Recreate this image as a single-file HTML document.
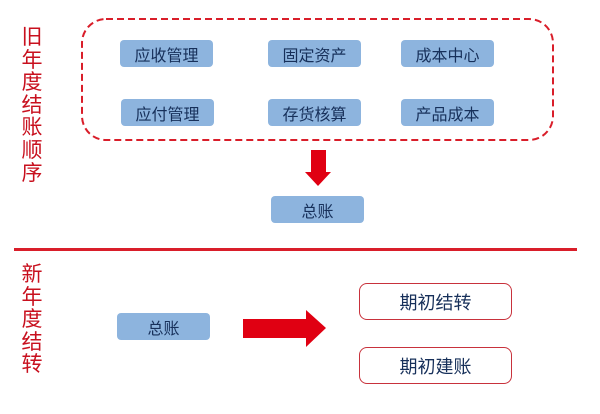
<!DOCTYPE html>
<html><head><meta charset="utf-8"><style>
body{margin:0;width:600px;height:414px;background:#fff;position:relative;overflow:hidden;font-family:"Liberation Sans","Noto Sans CJK SC",sans-serif}
.b{position:absolute;background:#8db4de;border-radius:4px;color:#17305a;font-size:16px;display:flex;align-items:center;justify-content:center;width:93px;height:27px}
.w{position:absolute;border:1.5px solid #c8323c;border-radius:8px;color:#17305a;font-size:18px;display:flex;align-items:center;justify-content:center;width:153px;height:37px;box-sizing:border-box;background:#fff}
.v{position:absolute;color:#c8101e;font-size:21px;line-height:22.6px;width:22px;text-align:center}
</style></head><body>
<div class="v" style="left:21px;top:27px">旧<br>年<br>度<br>结<br>账<br>顺<br>序</div>
<div class="v" style="left:21px;top:264px">新<br>年<br>度<br>结<br>转</div>
<svg width="600" height="414" style="position:absolute;left:0;top:0">
<rect x="82" y="19" width="471" height="121" rx="24" fill="none" stroke="#d91e2a" stroke-width="2" stroke-dasharray="7,4"/>
<polygon points="311,150 326,150 326,172 331,172 318,186 305,172 311,172" fill="#e00012"/>
<rect x="14" y="248" width="563" height="3" fill="#d91e2a"/>
<polygon points="243,319 306,319 306,310 326,328 306,347 306,338 243,338" fill="#e00012"/>
</svg>
<div class="b" style="left:120px;top:40px">应收管理</div>
<div class="b" style="left:268px;top:40px">固定资产</div>
<div class="b" style="left:401px;top:40px">成本中心</div>
<div class="b" style="left:121px;top:99px">应付管理</div>
<div class="b" style="left:268px;top:99px">存货核算</div>
<div class="b" style="left:401px;top:99px">产品成本</div>
<div class="b" style="left:271px;top:196px">总账</div>
<div class="b" style="left:117px;top:313px">总账</div>
<div class="w" style="left:359px;top:283px">期初结转</div>
<div class="w" style="left:359px;top:347px">期初建账</div>
</body></html>
